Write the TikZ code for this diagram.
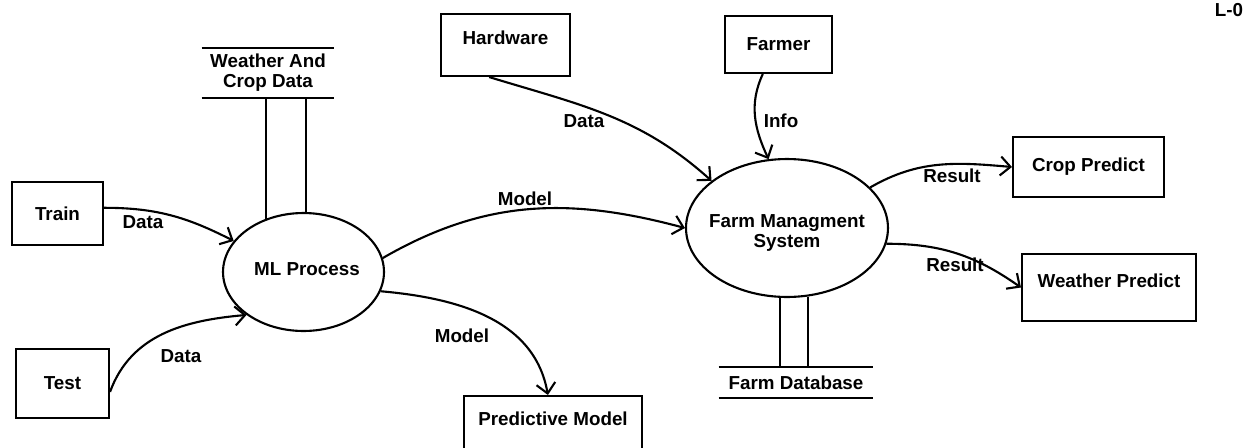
\documentclass[tikz,border=0pt]{standalone}
\usepackage{fontspec}
\setmainfont{Liberation Sans}
\usetikzlibrary{arrows.meta,positioning,shapes.geometric}

\tikzset{
  entity/.style={draw,rectangle,line width=1.2pt},
  process/.style={draw,ellipse,line width=1.2pt},
  datastore/.style={align=center},
  flow/.style={-{Straight Barb[length=2mm,width=3.8mm]},line width=1.2pt},
  link/.style={line width=1.2pt},
}

\begin{document}
\begin{tikzpicture}[x=0.02cm,y=-0.02cm,every node/.style={font=\fontsize{10.7}{11.3}\selectfont\bfseries}]

  \useasboundingbox[fill=white] (0,0) rectangle (1244,447);

  % external entities
  \node [entity,minimum width=1.82cm,minimum height=1.26cm] at(57.5,213.5) (train) {Train};
  \node [entity,minimum width=1.86cm,minimum height=1.38cm] at(62.5,383.5) (test) {Test};
  \node [entity,minimum width=2.58cm,minimum height=1.24cm,text depth=0.3cm] at(505.5,45) (hw) {Hardware};
  \node [entity,minimum width=2.14cm,minimum height=1.14cm] at(778.5,44.5) (farmer) {Farmer};
  \node [entity,minimum width=3.02cm,minimum height=1.20cm] at(1088.5,167) (cp) {Crop Predict};
  \node [entity,minimum width=3.48cm,minimum height=1.34cm,text depth=0.26cm] at(1109,287.5) (wp) {Weather Predict};
  \node [entity,minimum width=3.56cm,minimum height=1.12cm,text depth=0.2cm] at(553,424) (pm) {Predictive Model};

  % processes
  \node [process,minimum width=3.22cm,minimum height=2.36cm,
         label={[xshift=0.07cm,yshift=0.06cm]center:ML Process}] at(303.5,272) (ml) {};
  \node [process,minimum width=4.04cm,minimum height=2.76cm,
         label={[align=center,yshift=-0.1cm]center:Farm Managment\\System}] at(787,228) (fms) {};

  % data stores
  \node [datastore,minimum width=2.64cm,minimum height=0.96cm] at(268,73) (wcd) {Weather And\\Crop Data};
  \node [datastore,minimum width=3.08cm,minimum height=0.62cm] at(796,382.5) (fdb) {Farm Database};
  \foreach \s in {wcd,fdb}
    \draw [link] (\s.north west) -- (\s.north east) (\s.south west) -- (\s.south east);

  \foreach \a in {125,88}
    \draw [link] (ml.\a) -- (ml.\a |- wcd.south);
  \foreach \a in {264,287}
    \draw [link] (fms.\a) -- (fms.\a |- fdb.north);

  % flows
  \draw [flow] (train.7) to[out=0,in=153] (ml.156);
  \draw [flow] (test.-10) to[out=70,in=185] (ml.217);
  \draw [flow] (ml.10) to[out=30,in=165] (fms.west);
  \draw [flow] (ml.-14) to[out=-5,in=100] (pm.100);
  \draw [flow] (hw.-117) to[out=-17,in=138] (fms.148);
  \draw [flow] (farmer.-118) to[out=-115,in=115] (fms.105);
  \draw [flow] (fms.26) to[out=30,in=175] (cp.west);
  \draw [flow] (fms.-9) to[out=0,in=145] (wp.west);

  \node at(143,222) (lbl_train) {Data};
  \node at(181,356) (lbl_test) {Data};
  \node at(525,199) (lbl_model) {Model};
  \node at(462,336) (lbl_pred) {Model};
  \node at(584,121) (lbl_hw) {Data};
  \node at(781,121) (lbl_info) {Info};
  \node at(952,176) (lbl_crop) {Result};
  \node at(955,265) (lbl_weather) {Result};

  \node at(1229,10) (level) {L-0};
\end{tikzpicture}
\end{document}
